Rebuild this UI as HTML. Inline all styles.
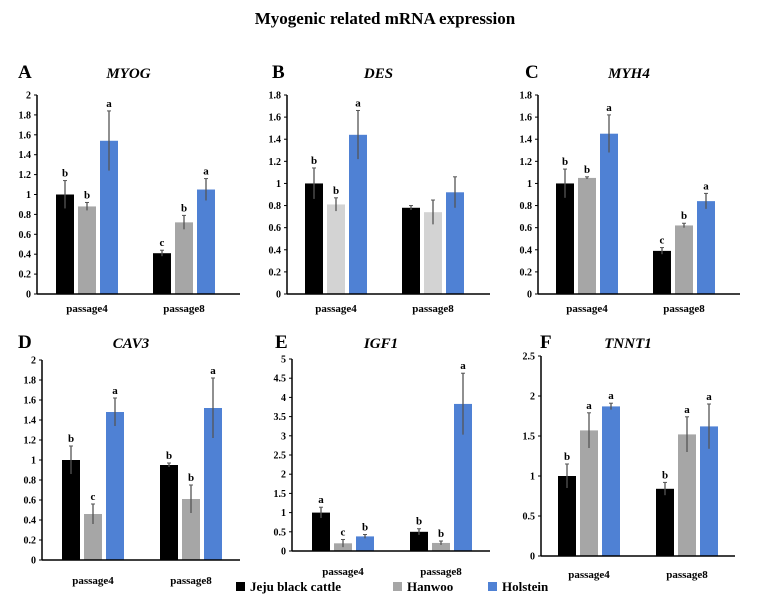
<!DOCTYPE html>
<html><head><meta charset="utf-8">
<style>
body{margin:0;background:#fff;}
svg{display:block;font-family:"Liberation Serif",serif;font-weight:bold;}
</style></head>
<body>
<svg id="c" width="770" height="606" xmlns="http://www.w3.org/2000/svg">
<text x="385" y="24" text-anchor="middle" font-size="17">Myogenic related  mRNA expression</text>
<g font-size="13">
<rect x="236" y="582" width="9" height="9" fill="#000"/>
<text x="250" y="591">Jeju black cattle</text>
<rect x="393" y="582" width="9" height="9" fill="#a6a6a6"/>
<text x="407" y="591">Hanwoo</text>
<rect x="488" y="582" width="9" height="9" fill="#4f81d4"/>
<text x="502" y="591">Holstein</text>
</g>
</svg>
<script>
const categories = ["passage4","passage8"];
const seriesNames = ["Jeju black cattle","Hanwoo","Holstein"];
const genes = ["MYOG","DES","MYH4","CAV3","IGF1","TNNT1"];
const panelLetters = ["A","B","C","D","E","F"];
const yMaxes = [2,1.8,1.8,2,5,2.5];
const tickSteps = [0.2,0.2,0.2,0.2,0.5,0.5];
const valuesA = [[1.0,0.88,1.54],[0.41,0.72,1.05]];
const errorsA = [[0.14,0.04,0.3],[0.03,0.07,0.11]];
const lettersA = [["b","b","a"],["c","b","a"]];
const valuesB = [[1.0,0.81,1.44],[0.78,0.74,0.92]];
const errorsB = [[0.14,0.06,0.22],[0.02,0.11,0.14]];
const lettersB = [["b","b","a"],["","",""]];
const valuesC = [[1.0,1.05,1.45],[0.39,0.62,0.84]];
const errorsC = [[0.13,0.01,0.17],[0.03,0.02,0.07]];
const lettersC = [["b","b","a"],["c","b","a"]];
const valuesD = [[1.0,0.46,1.48],[0.95,0.61,1.52]];
const errorsD = [[0.14,0.1,0.14],[0.02,0.14,0.3]];
const lettersD = [["b","c","a"],["b","b","a"]];
const valuesE = [[1.0,0.2,0.38],[0.5,0.21,3.83]];
const errorsE = [[0.14,0.1,0.05],[0.08,0.05,0.8]];
const lettersE = [["a","c","b"],["b","b","a"]];
const valuesF = [[1.0,1.57,1.87],[0.84,1.52,1.62]];
const errorsF = [[0.15,0.22,0.04],[0.08,0.22,0.28]];
const lettersF = [["b","a","a"],["b","a","a"]];
const allValues=[valuesA,valuesB,valuesC,valuesD,valuesE,valuesF];
const allErrors=[errorsA,errorsB,errorsC,errorsD,errorsE,errorsF];
const allLetters=[lettersA,lettersB,lettersC,lettersD,lettersE,lettersF];
// layout
const layout=[
 {ax:37,y0:294,yt:95,x1:240,c:[87,184],lx:18,ly:78,lo:18},
 {ax:287,y0:294,yt:95,x1:490,c:[336,433],lx:272,ly:78,lo:18},
 {ax:538,y0:294,yt:95,x1:740,c:[587,684],lx:525,ly:78,lo:18},
 {ax:42,y0:560,yt:360,x1:240,c:[93,191],lx:18,ly:348,lo:24},
 {ax:292,y0:551,yt:359,x1:490,c:[343,441],lx:275,ly:348,lo:24},
 {ax:541,y0:556,yt:356,x1:735,c:[589,687],lx:540,ly:348,lo:22}
];
const NS="http://www.w3.org/2000/svg";
const svg=document.getElementById('c');
function mk(tag,attrs,parent){const e=document.createElementNS(NS,tag);for(const k in attrs)e.setAttribute(k,attrs[k]);parent.appendChild(e);return e;}
layout.forEach((L,p)=>{
 const g=mk('g',{},svg);
 
 
 const ymax=yMaxes[p];
 const y=v=>L.y0-(v/ymax)*(L.y0-L.yt);
 const colors=["#000000",p===1?"#d3d3d3":"#a6a6a6","#4f81d4"];
 const lt=mk('text',{x:L.lx,y:L.ly,'font-size':19},g);lt.textContent=panelLetters[p];
 
 
 const gt=mk('text',{x:(L.ax+L.x1)/2-10,y:L.ly,'font-size':15,'font-style':'italic','text-anchor':'middle'},g);gt.textContent=genes[p];
 
 
 const n=Math.round(ymax/tickSteps[p]);
 for(let i=0;i<=n;i++){
  const v=i*tickSteps[p];
  const t=mk('text',{x:L.ax-6,y:y(v)+3.5,'font-size':10,'text-anchor':'end'},g);
  t.textContent=String(Math.round(v*10)/10);
  
  
  mk('line',{x1:L.ax-3,x2:L.ax,y1:y(v),y2:y(v),stroke:'#000','stroke-width':1},g);
 }
 const ya=mk('line',{x1:L.ax,x2:L.ax,y1:L.yt,y2:L.y0,stroke:'#000','stroke-width':1.5},g);
 
 
 categories.forEach((cat,ci)=>{
  const cx=L.c[ci];
  seriesNames.forEach((s,si)=>{
   const v=allValues[p][ci][si],e=allErrors[p][ci][si];
   const bx=cx+(si-1)*22-9;
   const r=mk('rect',{x:bx,y:y(v),width:18,height:L.y0-y(v),fill:colors[si]},g);
   
   
   mk('line',{x1:bx+9,x2:bx+9,y1:y(v+e),y2:y(v-e),stroke:'#555','stroke-width':1.3},g);
   mk('line',{x1:bx+7,x2:bx+11,y1:y(v+e),y2:y(v+e),stroke:'#555','stroke-width':1},g);
   const lt2=allLetters[p][ci][si];
   if(lt2){const t=mk('text',{x:bx+9,y:y(v+e)-4,'font-size':11,'text-anchor':'middle'},g);t.textContent=lt2;
    
    }
  });
  const xl=mk('text',{x:cx,y:L.y0+L.lo,'font-size':11,'text-anchor':'middle'},g);xl.textContent=cat;
  
  
 });
 const xa=mk('line',{x1:L.ax,x2:L.x1,y1:L.y0,y2:L.y0,stroke:'#000','stroke-width':1.5},g);
 
 
});
</script>
</body></html>
